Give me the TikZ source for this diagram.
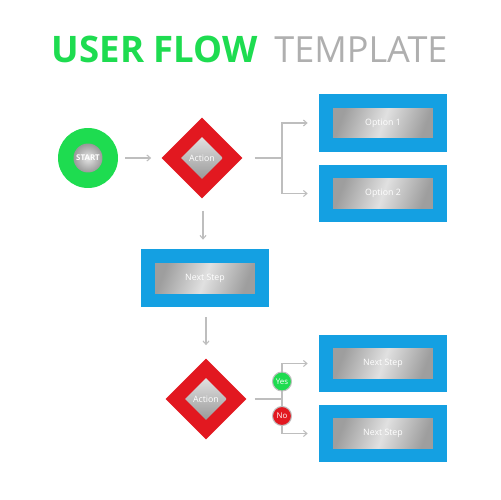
\documentclass[tikz,border=0pt]{standalone}
\usepackage{fontspec}
\setmainfont{Open Sans}
\usetikzlibrary{shapes.geometric,arrows.meta}
\definecolor{fgreen}{RGB}{30,220,80}
\definecolor{fred}{RGB}{226,24,32}
\definecolor{fblue}{RGB}{20,160,226}
\definecolor{flink}{RGB}{190,190,190}
\definecolor{ftitlegray}{RGB}{175,175,175}
\tikzset{
  bluebox/.style={rectangle,fill=fblue,minimum width=2.56cm,minimum height=1.16cm,inner sep=0pt},
  silverbox/.style={rectangle,minimum width=2cm,minimum height=0.6cm,inner sep=0pt,
    left color=black!38,right color=black!38,middle color=black!12,shading angle=70,
    text=white,font=\fontsize{5}{6}\selectfont},
  reddia/.style={diamond,aspect=1,fill=fred,minimum size=1.62cm,inner sep=0pt},
  silverdia/.style={diamond,aspect=1,minimum size=0.84cm,inner sep=0pt,
    top color=black!12,bottom color=black!40,
    text=white,font=\fontsize{5}{6}\selectfont},
  link/.style={draw=flink,line width=0.6pt},
  arrowlink/.style={link,-{Straight Barb[length=2pt,width=3.5pt]}},
  tinycircle/.style={circle,minimum size=0.38cm,inner sep=0pt,draw=black!25,line width=0.6pt,
    text=white,font=\fontsize{4.5}{5}\selectfont}
}
\begin{document}
\begin{tikzpicture}[x=0.02cm,y=-0.02cm]
\useasboundingbox[fill=white] (0,0) rectangle (500,500);
% title
\node[anchor=base east,inner sep=0pt,font=\fontsize{20.8}{24}\selectfont\bfseries,text=fgreen] (t1) at (258,63) {USER FLOW};
\node[anchor=base west,inner sep=0pt,font=\fontsize{20.5}{24}\selectfont,text=ftitlegray] (t2) at (274,63) {TEMPLATE};
% start
\node[circle,fill=fgreen,minimum size=1.2cm,inner sep=0pt] (start) at (88,158) {};
\node[circle,minimum size=0.58cm,inner sep=0pt,inner color=black!10,outer color=black!40,
  text=white,font=\fontsize{4.5}{5}\selectfont\bfseries] (startin) at (88,158) {START};
% action 1
\node[reddia] (act1) at (202,158) {};
\node[silverdia] (act1in) at (202,158) {Action};
% options
\node[bluebox] (opt1) at (383,123) {};
\node[silverbox] (opt1in) at (383,123) {Option 1};
\node[bluebox] (opt2) at (383,193.5) {};
\node[silverbox] (opt2in) at (383,193.5) {Option 2};
% next step
\node[bluebox] (next) at (205,278) {};
\node[silverbox] (nextin) at (205,278) {Next Step};
% action 2
\node[reddia] (act2) at (206,399) {};
\node[silverdia] (act2in) at (206,399) {Action};
% bottom next steps
\node[bluebox] (ns1) at (383,363.5) {};
\node[silverbox] (ns1in) at (383,363.5) {Next Step};
\node[bluebox] (ns2) at (383,433.5) {};
\node[silverbox] (ns2in) at (383,433.5) {Next Step};
% connectors
\coordinate (br1) at (282,158);
\coordinate (br2) at (282,399);
\draw[arrowlink,shorten <=4pt,shorten >=0.2cm] (start) -- (act1);
\draw[link,shorten <=0.24cm] (act1.east) -- (br1);
\draw[arrowlink,shorten >=0.22cm] (br1) |- (opt1.west);
\draw[arrowlink,shorten >=0.22cm] (br1) |- (opt2.west);
\draw[arrowlink,shorten <=0.24cm,shorten >=0.18cm] ([xshift=0.02cm]act1.south) -- ([xshift=0.02cm]act1.south |- next.north);
\draw[arrowlink,shorten <=0.2cm,shorten >=0.26cm] (next.south -| act2.north) -- (act2.north);
\draw[link,shorten <=0.16cm] (act2.east) -- (br2);
\draw[arrowlink,shorten >=0.22cm] (br2) |- (ns1.west);
\draw[arrowlink,shorten >=0.22cm] (br2) |- (ns2.west);
\node[tinycircle,fill=fgreen] (yes) at (282,381.5) {Yes};
\node[tinycircle,fill=fred] (no) at (282,416) {No};
\end{tikzpicture}
\end{document}
